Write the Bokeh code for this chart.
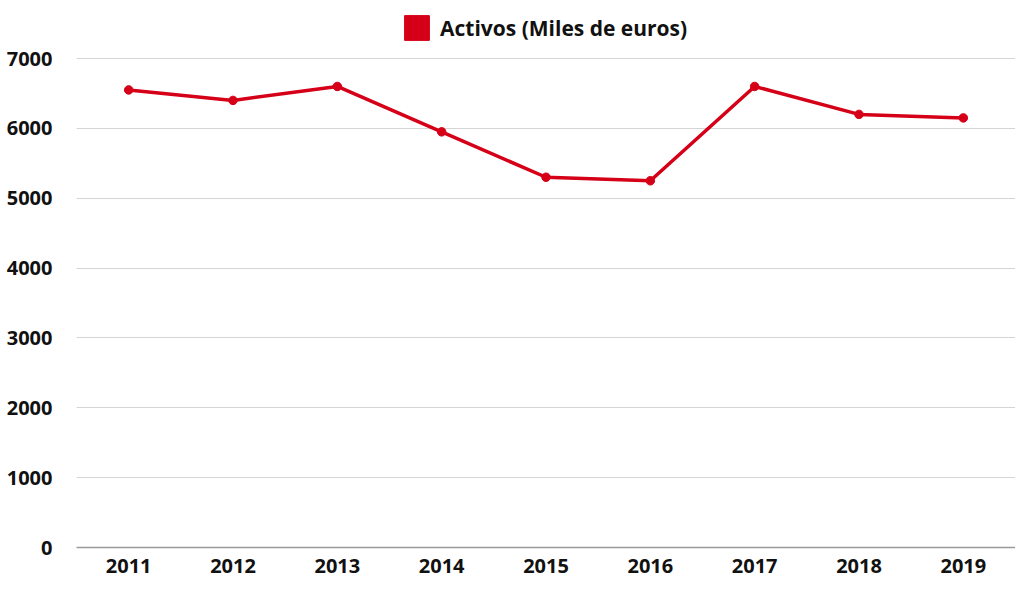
from bokeh.plotting import figure
from bokeh.models import Range1d, FactorRange, Legend, LegendItem, ColumnDataSource
from bokeh.embed import file_html
from bokeh.resources import INLINE

years = ["2011", "2012", "2013", "2014", "2015", "2016", "2017", "2018", "2019"]
activos = [6550, 6400, 6600, 5950, 5300, 5250, 6600, 6200, 6150]
y_ticks = [0, 1000, 2000, 3000, 4000, 5000, 6000, 7000]
series_name = "Activos (Miles de euros)"

RED = "#d50018"
FONT = "Open Sans"
FS = "20px"

W, H = 1015, 581
LB, TB, BB = 76, 8, 34
Y_TOP_PX = 58           # pixel row where the 7000 gridline should sit
frame_h = H - TB - BB
px_per_unit = (H - BB - Y_TOP_PX) / 7000.0
y_max = 7000 + (Y_TOP_PX - TB) / px_per_unit

p = figure(width=W, height=H, output_backend="svg", toolbar_location=None,
           x_range=FactorRange(factors=years, range_padding=0),
           y_range=Range1d(0, y_max),
           min_border_left=LB, min_border_right=0, min_border_top=TB, min_border_bottom=BB)
p.outline_line_color = None
p.background_fill_color = "white"

src = ColumnDataSource(dict(x=years, y=activos))
p.line("x", "y", source=src, line_color=RED, line_width=3.5)
p.scatter("x", "y", source=src, size=8.5, fill_color=RED, line_color=RED)

# legend swatch renderer (kept outside the visible range)
sw = p.quad(left=["2011"], right=["2011"], top=[-100], bottom=[-200],
            fill_color=RED, line_color=RED)
legend = Legend(items=[LegendItem(label=series_name, renderers=[sw])],
                location=(325, frame_h - (43 - TB)), orientation="horizontal",
                glyph_width=31, glyph_height=31, label_standoff=8,
                label_text_font=FONT, label_text_font_style="bold",
                label_text_font_size="21px", label_text_color="#111111",
                border_line_color=None, background_fill_alpha=0,
                padding=0, margin=0, spacing=0)
p.add_layout(legend)

# y axis
p.yaxis.ticker = y_ticks
p.yaxis.axis_line_color = None
p.yaxis.major_tick_line_color = None
p.yaxis.minor_tick_line_color = None
p.yaxis.major_label_text_font = FONT
p.yaxis.major_label_text_font_style = "bold"
p.yaxis.major_label_text_font_size = FS
p.yaxis.major_label_text_color = "#111111"
p.yaxis.major_label_standoff = 18

# x axis
p.xaxis.axis_line_color = "#9a9a9a"
p.xaxis.axis_line_width = 1.5
p.xaxis.major_tick_line_color = None
p.xaxis.minor_tick_line_color = None
p.xaxis.major_label_text_font = FONT
p.xaxis.major_label_text_font_style = "bold"
p.xaxis.major_label_text_font_size = FS
p.xaxis.major_label_text_color = "#111111"
p.xaxis.major_label_standoff = 5

p.xgrid.grid_line_color = None
p.ygrid.grid_line_color = "#d4d4d4"
p.ygrid.grid_line_width = 1

open("out.html", "w").write(file_html(p, INLINE))
